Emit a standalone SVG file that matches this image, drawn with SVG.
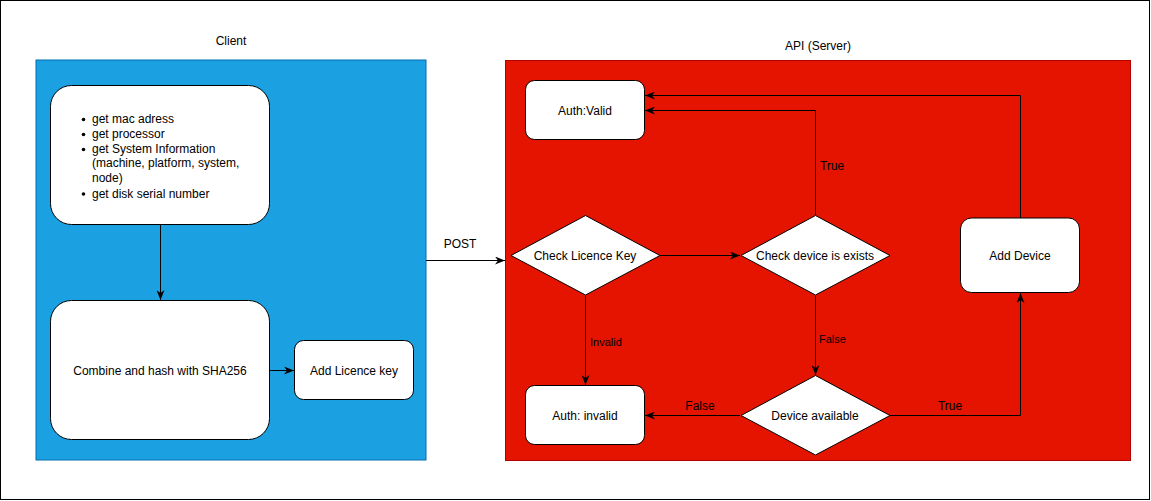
<svg xmlns="http://www.w3.org/2000/svg" width="1151" height="501" viewBox="0 0 1151 501">
<style>
  text { font-family: "Liberation Sans", Arial, sans-serif; font-size: 12px; fill: #000; }
  .c { text-anchor: middle; }
  .node { fill: #fff; stroke: #000; stroke-width: 1; }
  .edge { fill: none; stroke: #000; stroke-width: 1; marker-end: url(#arrow); }
  .lbl { font-size: 11px; }
</style>
<defs>
  <marker id="arrow" viewBox="0 0 10 8" markerUnits="userSpaceOnUse" markerWidth="10" markerHeight="8" refX="10" refY="4" orient="auto">
    <path d="M0,0 L10,4 L0,8 L3,4 Z" fill="#000"/>
  </marker>
</defs>
<rect x="0.5" y="0.5" width="1149" height="499" fill="#fff" stroke="#000"/>

<g id="client-container">
  <rect x="36" y="60" width="390" height="400" fill="#1ba1e2" stroke="#006eaf"/>
  <text class="c" x="231" y="45">Client</text>
</g>
<g id="server-container">
  <rect x="505.5" y="60.5" width="625" height="400" fill="#e51400" stroke="#b20000"/>
  <text class="c" x="818" y="50">API (Server)</text>
</g>

<g id="connectors">
  <path class="edge" d="M160.5,225 L160.5,300"/>
  <path class="edge" d="M270,370.5 L294,370.5"/>
  <path class="edge" d="M426,260.5 L505,260.5"/>
  <text class="c" x="460" y="248">POST</text>
  <path class="edge" d="M660,255.5 L740,255.5"/>
  <path class="edge" d="M585.5,295 L585.5,385"/>
  <text class="lbl" x="590" y="346">Invalid</text>
  <path class="edge" d="M815.5,215 L815.5,110.5 L645,110.5"/>
  <text x="820" y="170">True</text>
  <path class="edge" d="M815.5,295 L815.5,375"/>
  <text class="lbl" x="819" y="343">False</text>
  <path class="edge" d="M740,415.5 L645,415.5"/>
  <text class="c" x="700" y="410">False</text>
  <path class="edge" d="M890,415.5 L1020.5,415.5 L1020.5,293"/>
  <text class="c" x="950" y="410">True</text>
  <path class="edge" d="M1020.5,218 L1020.5,95.5 L645,95.5"/>
</g>

<g id="node-sysinfo">
  <rect class="node" x="50.5" y="85.5" width="219" height="139" rx="21" ry="21"/>
  <circle cx="83.5" cy="119.5" r="1.8"/>
  <circle cx="83.5" cy="134.5" r="1.8"/>
  <circle cx="83.5" cy="149.5" r="1.8"/>
  <circle cx="83.5" cy="194" r="1.8"/>
  <text x="92" y="123">get mac adress</text>
  <text x="92" y="138">get processor</text>
  <text x="92" y="152.5">get System Information</text>
  <text x="92" y="167">(machine, platform, system,</text>
  <text x="92" y="181.5">node)</text>
  <text x="92" y="197.5">get disk serial number</text>
</g>
<g id="node-combine">
  <rect class="node" x="50.5" y="300.5" width="219" height="139" rx="21" ry="21"/>
  <text class="c" x="160" y="375">Combine and hash with SHA256</text>
</g>
<g id="node-addkey">
  <rect class="node" x="294.5" y="340.5" width="119" height="59" rx="9" ry="9"/>
  <text class="c" x="354" y="375">Add Licence key</text>
</g>
<g id="node-checkkey">
  <polygon class="node" points="585.5,215.5 660,255.5 585.5,295 511,255.5"/>
  <text class="c" x="585" y="260">Check Licence Key</text>
</g>
<g id="node-checkdevice">
  <polygon class="node" points="815.5,215.5 890,255.5 815.5,295 741,255.5"/>
  <text class="c" x="815" y="260">Check device is exists</text>
</g>
<g id="node-available">
  <polygon class="node" points="815.5,375.5 890,415.5 815.5,455 741,415.5"/>
  <text class="c" x="815" y="420">Device available</text>
</g>
<g id="node-valid">
  <rect class="node" x="525.5" y="80.5" width="119" height="59" rx="9" ry="9"/>
  <text class="c" x="585" y="115">Auth:Valid</text>
</g>
<g id="node-invalid">
  <rect class="node" x="525.5" y="385.5" width="119" height="59" rx="9" ry="9"/>
  <text class="c" x="585" y="420">Auth: invalid</text>
</g>
<g id="node-adddevice">
  <rect class="node" x="960.5" y="218" width="119" height="74.5" rx="11" ry="11"/>
  <text class="c" x="1020" y="260">Add Device</text>
</g>
</svg>
